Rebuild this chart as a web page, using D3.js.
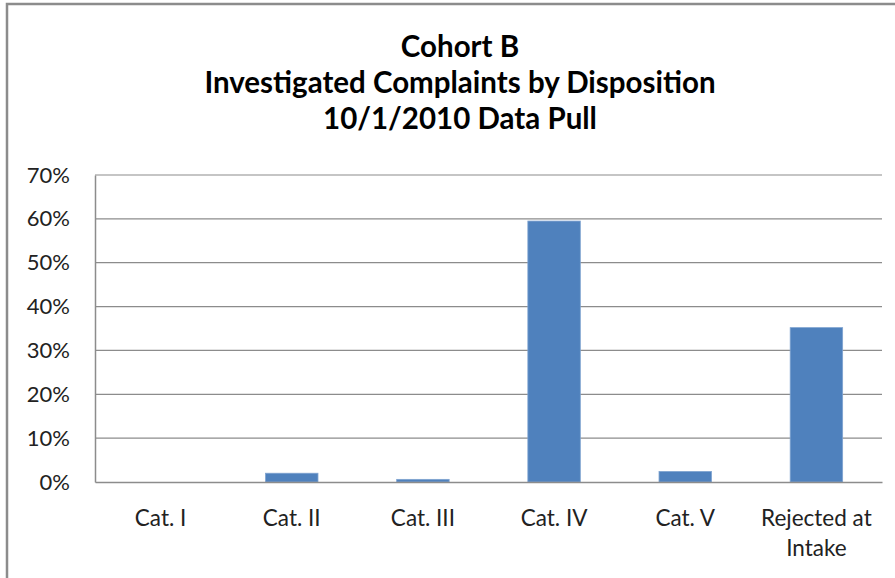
<!DOCTYPE html>
<html>
<head>
<meta charset="utf-8">
<script src="https://cdn.jsdelivr.net/npm/d3@7"></script>
<style>
  html, body { margin: 0; padding: 0; background: #fff; }
  svg { display: block; font-family: Lato, "Open Sans", sans-serif; }
</style>
</head>
<body>
<div id="chart"></div>
<script>
// chart data
const categories = ["Cat. I", "Cat. II", "Cat. III", "Cat. IV", "Cat. V", "Rejected at Intake"];
const shares = [0.0, 0.02, 0.006, 0.595, 0.024, 0.352];
const yTicks = [0, 0.1, 0.2, 0.3, 0.4, 0.5, 0.6, 0.7];
const titleLines = ["Cohort B", "Investigated Complaints by Disposition", "10/1/2010 Data Pull"];

const width = 895;
const height = 578;
const plot = { left: 95, right: 882, top: 175, bottom: 482 };

const svg = d3.select("#chart")
  .append("svg")
  .attr("width", width)
  .attr("height", height);

// chart frame (only top and left edges show in the picture)
svg.append("path")
  .attr("d", `M7,${height} V4 H${width}`)
  .attr("fill", "none")
  .attr("stroke", "#8c8c8c")
  .attr("stroke-width", 2.5);

// title
svg.append("g")
  .selectAll("text")
  .data(titleLines)
  .enter()
  .append("text")
  .attr("x", 460)
  .attr("y", (d, i) => 57 + i * 36)
  .attr("text-anchor", "middle")
  .attr("font-size", 29.5)
  .attr("font-weight", "bold")
  .attr("fill", "#000")
  .text(d => d);

const x = d3.scaleBand()
  .domain(categories)
  .range([plot.left, plot.right])
  .paddingInner(0.6)
  .paddingOuter(0.3);

const y = d3.scaleLinear()
  .domain([0, 0.7])
  .range([plot.bottom, plot.top]);

// gridlines
svg.append("g")
  .selectAll("line")
  .data(yTicks.slice(1))
  .enter()
  .append("line")
  .attr("x1", plot.left)
  .attr("x2", plot.right)
  .attr("y1", d => y(d))
  .attr("y2", d => y(d))
  .attr("stroke", "#8c8c8c")
  .attr("stroke-width", 1.2);

// y axis
const yAxis = svg.append("g")
  .attr("transform", `translate(${plot.left},0)`)
  .call(d3.axisLeft(y).tickValues(yTicks).tickFormat(d3.format(".0%")).tickSize(0).tickPadding(25));
yAxis.select(".domain").attr("stroke", "#8c8c8c").attr("stroke-width", 1.5);
yAxis.selectAll("text")
  .attr("font-size", 22)
  .attr("font-family", "Lato, 'Open Sans', sans-serif")
  .attr("fill", "#222");

// bars
svg.append("g")
  .selectAll("rect")
  .data(shares)
  .enter()
  .append("rect")
  .attr("x", (d, i) => x(categories[i]))
  .attr("y", d => y(d))
  .attr("width", x.bandwidth())
  .attr("height", d => plot.bottom - y(d))
  .attr("fill", "#4f81bd")
  .attr("stroke", "#7fa3d0")
  .attr("stroke-width", 0.8);

// x axis
const xAxis = svg.append("g")
  .attr("transform", `translate(0,${plot.bottom})`)
  .call(d3.axisBottom(x).tickSize(0).tickFormat(""));
xAxis.select(".domain").attr("stroke", "#8c8c8c").attr("stroke-width", 1.5);

// category labels, wrapped like the original
const catLabel = svg.append("g")
  .selectAll("text")
  .data(categories)
  .enter()
  .append("text")
  .attr("x", d => x(d) + x.bandwidth() / 2)
  .attr("y", 526)
  .attr("text-anchor", "middle")
  .attr("font-size", 22.5)
  .attr("fill", "#222");

catLabel.each(function(d) {
  const parts = d === "Rejected at Intake" ? ["Rejected at", "Intake"] : [d];
  d3.select(this)
    .selectAll("tspan")
    .data(parts)
    .enter()
    .append("tspan")
    .attr("x", x(d) + x.bandwidth() / 2)
    .attr("dy", (p, i) => i === 0 ? 0 : 30)
    .text(p => p);
});
</script>
</body>
</html>
